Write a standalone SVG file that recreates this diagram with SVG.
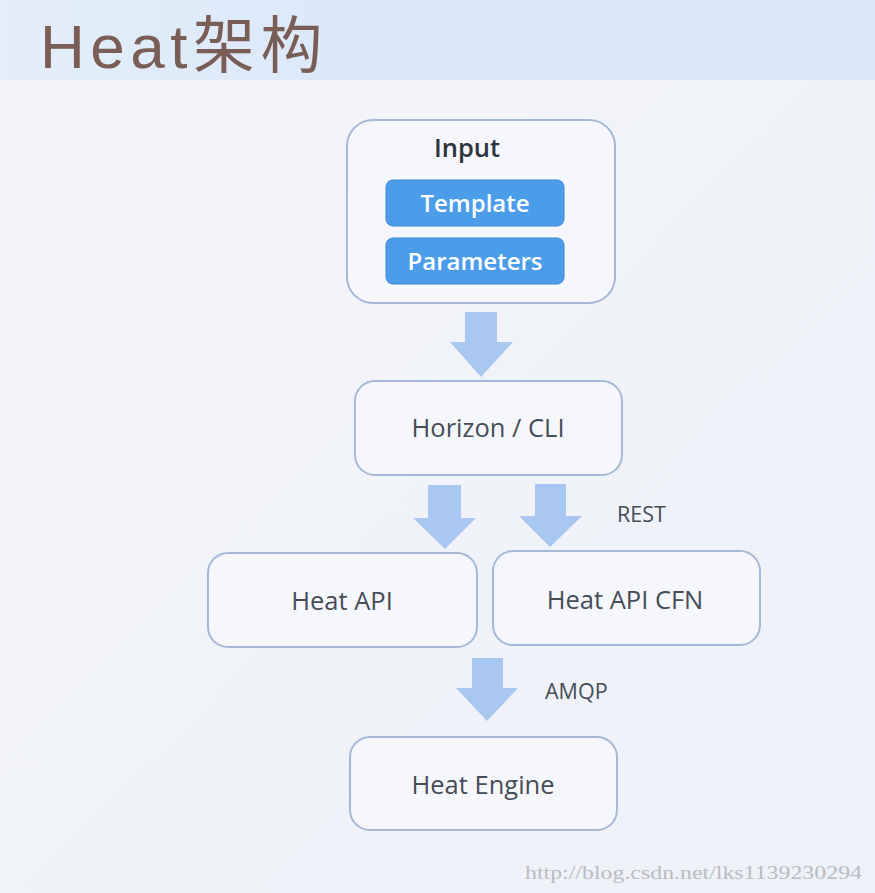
<svg xmlns="http://www.w3.org/2000/svg" width="875" height="893" viewBox="0 0 875 893">
<defs>
<linearGradient id="bg" x1="0" y1="0" x2="1" y2="1">
<stop offset="0" stop-color="#f4f5fb"/>
<stop offset="1" stop-color="#eef1f8"/>
</linearGradient>
<linearGradient id="band" x1="0" y1="0" x2="1" y2="0">
<stop offset="0" stop-color="#e4eefa"/>
<stop offset="0.5" stop-color="#d9e7f8"/>
<stop offset="1" stop-color="#dce9f8"/>
</linearGradient>
<style>
.box{fill:#f6f7fc;stroke:#a6b9d4;stroke-width:2}
.pill{fill:#4c9de9;stroke:#3d86cf;stroke-width:1}
.arrow{fill:#a8c8f1}
.lbl{font-family:"Open Sans","Liberation Sans",sans-serif;font-size:25.5px;fill:#454d57;text-anchor:middle}
.small{font-family:"Open Sans","Liberation Sans",sans-serif;font-size:21.5px;fill:#454d57}
.pt{font-family:"Open Sans","Liberation Sans",sans-serif;font-size:24px;fill:#ffffff;text-anchor:middle;font-weight:600}
</style>
</defs>
<rect x="0" y="0" width="875" height="893" fill="url(#bg)"/>
<rect x="0" y="0" width="875" height="80" fill="url(#band)"/>
<text x="40" y="68" font-family="'Liberation Sans','Noto Sans CJK SC',sans-serif" font-size="62" fill="#7a5d55" letter-spacing="5.5">Heat架构</text>

<g id="connectors">
<path class="arrow" d="M465,312 H497 V342 H513 L481,377 L450,342 H465 Z"/>
<path class="arrow" d="M428,485 H461 V518 H476 L445,549 L413,518 H428 Z"/>
<path class="arrow" d="M535,484 H566 V516 H582 L550,547 L519,516 H535 Z"/>
<path class="arrow" d="M472,658 H503 V688 H518 L487,721 L456,688 H472 Z"/>
<text class="small" x="617" y="522">REST</text>
<text class="small" x="545" y="699">AMQP</text>
</g>

<g id="input">
<rect class="box" x="347" y="120" width="268" height="183" rx="26"/>
<text x="467" y="157" font-family="'Open Sans','Liberation Sans',sans-serif" font-size="25.5" font-weight="600" fill="#2e343b" text-anchor="middle">Input</text>
<g id="template">
<rect class="pill" x="386" y="180" width="178" height="46" rx="7"/>
<text class="pt" x="475" y="212">Template</text>
</g>
<g id="parameters">
<rect class="pill" x="386" y="238" width="178" height="46" rx="7"/>
<text class="pt" x="475" y="270">Parameters</text>
</g>
</g>

<g id="horizon">
<rect class="box" x="355" y="381" width="267" height="94" rx="20"/>
<text class="lbl" x="488" y="437">Horizon / CLI</text>
</g>

<g id="heatapi">
<rect class="box" x="208" y="553" width="269" height="94" rx="20"/>
<text class="lbl" x="342" y="610">Heat API</text>
</g>

<g id="heatapicfn">
<rect class="box" x="493" y="551" width="267" height="94" rx="20"/>
<text class="lbl" x="625" y="609">Heat API CFN</text>
</g>

<g id="engine">
<rect class="box" x="350" y="737" width="267" height="93" rx="20"/>
<text class="lbl" x="483" y="794">Heat Engine</text>
</g>

<text x="525" y="879" font-family="'Liberation Serif',serif" font-size="18" fill="#b9bcc3" textLength="337" lengthAdjust="spacingAndGlyphs">http://blog.csdn.net/lks1139230294</text>
</svg>
